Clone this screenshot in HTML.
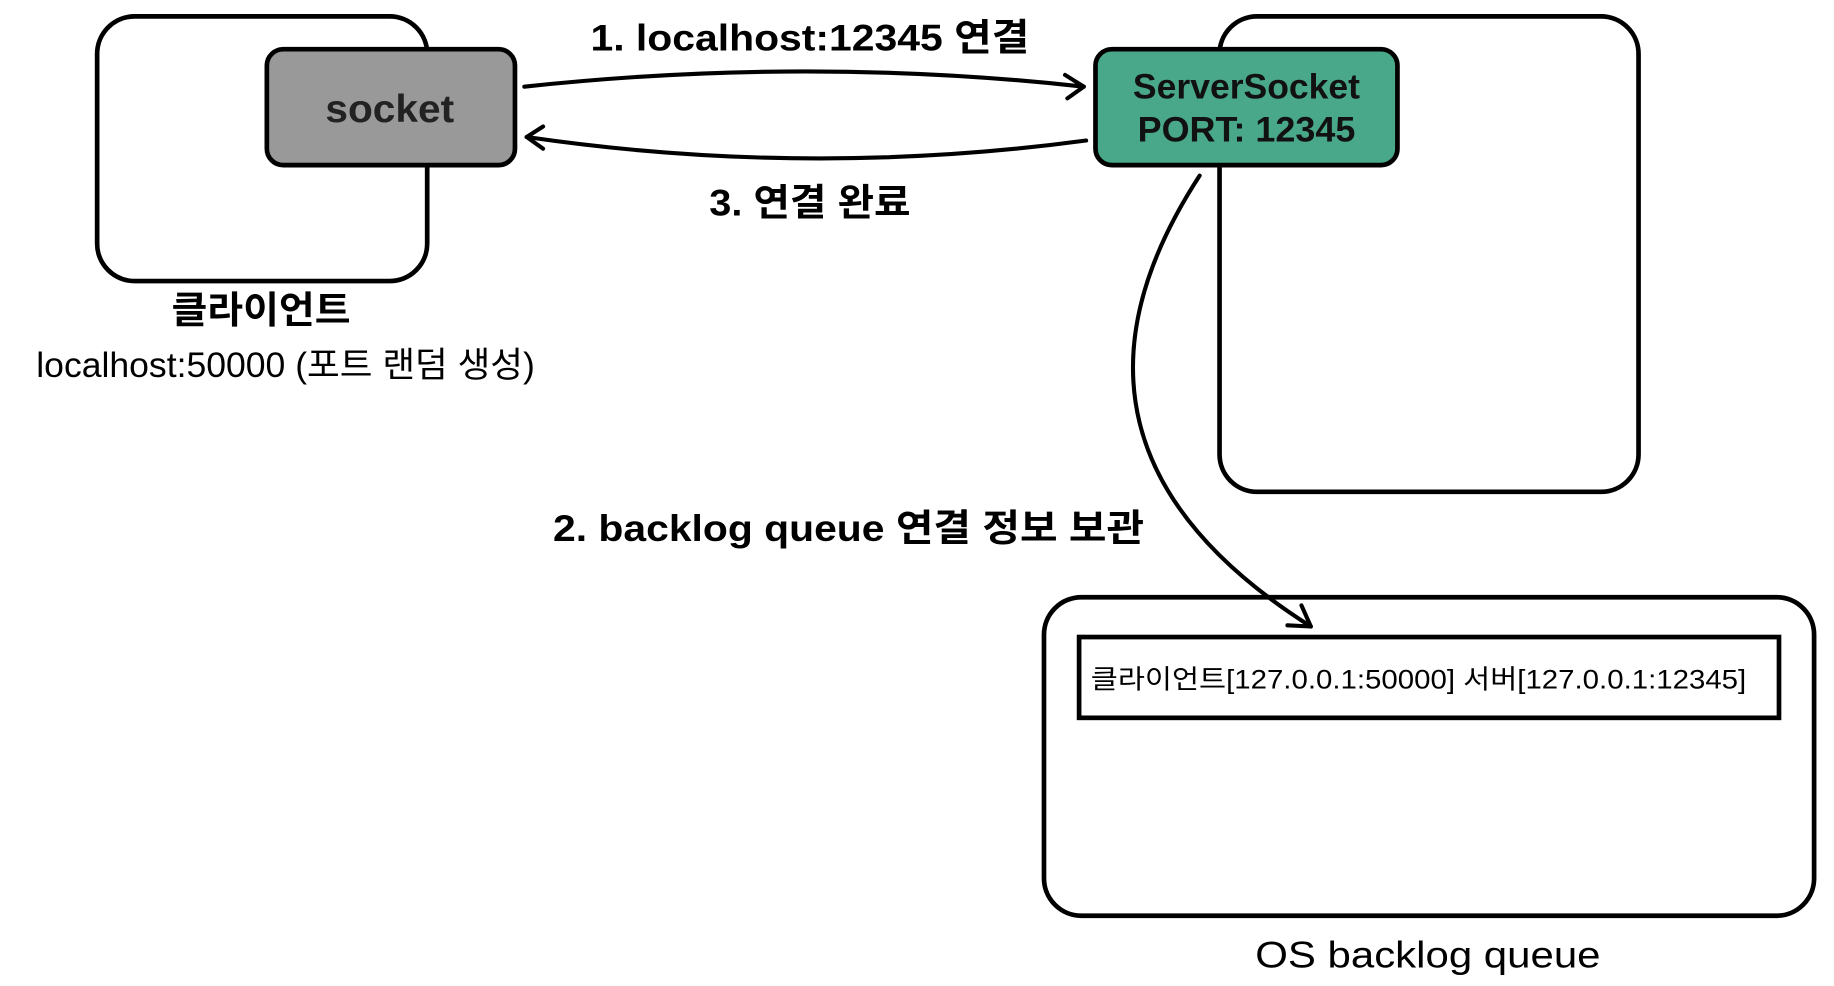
<!DOCTYPE html>
<html><head><meta charset="utf-8"><style>
html,body{margin:0;padding:0;background:#fff;}
svg{display:block;}
text{font-family:"Liberation Sans","Noto Sans CJK KR",sans-serif;}
</style></head><body>
<svg width="1834" height="986" viewBox="0 0 1567 842" preserveAspectRatio="none" xmlns="http://www.w3.org/2000/svg">
<g fill="none" stroke="#000" stroke-width="4">
<rect x="83" y="14" width="282" height="226" rx="32"/>
<rect x="1042" y="14" width="358" height="406" rx="32"/>
<rect x="892" y="510" width="658" height="272" rx="32"/>
</g>
<rect x="228" y="42" width="212" height="99" rx="14" fill="#999" stroke="#000" stroke-width="4"/>
<rect x="936" y="42" width="258" height="99" rx="14" fill="#4aa88a" stroke="#000" stroke-width="4"/>
<rect x="922" y="544" width="598" height="69" fill="#fff" stroke="#000" stroke-width="4"/>
<g fill="none" stroke="#000" stroke-width="3.5" stroke-linecap="round" stroke-linejoin="round">
<path d="M448 74 Q690 48 926 74"/>
<path d="M910 64 L926 74 L912 84"/>
<path d="M928 120 Q690 152 450 117"/>
<path d="M464 108 L450 117 L464 127"/>
<path d="M1025 150 Q875 380 1120 535"/>
<path d="M1100 534 L1120 535 L1112 517"/>
</g>
<g text-anchor="middle" font-size="30">
<text x="333" y="104" font-size="33" font-weight="bold" fill="#222" textLength="110" lengthAdjust="spacingAndGlyphs">socket</text>
<text x="1065" y="84" font-weight="bold" fill="#111" textLength="194" lengthAdjust="spacingAndGlyphs">ServerSocket</text>
<text x="1065" y="121" font-weight="bold" fill="#111" textLength="186" lengthAdjust="spacingAndGlyphs">PORT: 12345</text>
<text x="692" y="43" font-weight="bold" font-size="32" textLength="375" lengthAdjust="spacingAndGlyphs">1. localhost:12345 연결</text>
<text x="692" y="184" font-weight="bold" font-size="32" textLength="172" lengthAdjust="spacingAndGlyphs">3. 연결 완료</text>
<text x="223" y="276" font-weight="bold" font-size="32" textLength="153" lengthAdjust="spacingAndGlyphs">클라이언트</text>
<text x="244" y="322" textLength="426" lengthAdjust="spacingAndGlyphs">localhost:50000 (포트 랜덤 생성)</text>
<text x="725" y="462" font-weight="bold" font-size="32" textLength="505" lengthAdjust="spacingAndGlyphs">2. backlog queue 연결 정보 보관</text>
<text x="1212" y="588" font-size="23" textLength="560" lengthAdjust="spacingAndGlyphs">클라이언트[127.0.0.1:50000] 서버[127.0.0.1:12345]</text>
<text x="1220" y="826" font-size="32" textLength="295" lengthAdjust="spacingAndGlyphs">OS backlog queue</text>
</g>
</svg>
</body></html>
